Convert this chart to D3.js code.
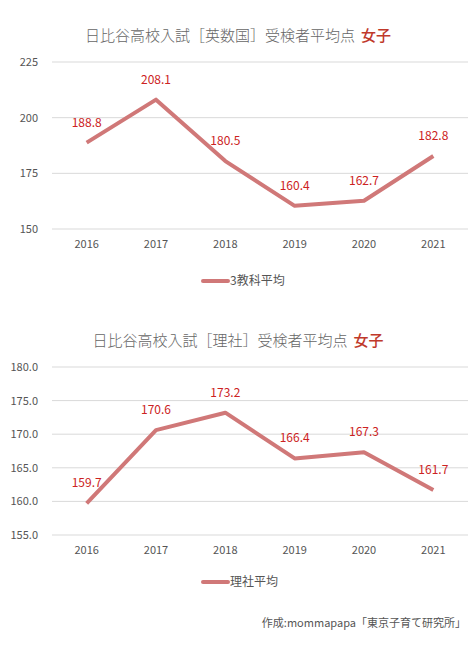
<!DOCTYPE html>
<html><head><meta charset="utf-8">
<script src="https://cdn.jsdelivr.net/npm/d3@7"></script>
<style>
body{margin:0;background:#fff;font-family:"Noto Sans CJK JP","Noto Sans",sans-serif;}
</style></head>
<body><svg id="c" width="476" height="645"></svg>
<script>
const years = ["2016","2017","2018","2019","2020","2021"];
const scoreMain = [188.8, 208.1, 180.5, 160.4, 162.7, 182.8];
const scoreSci = [159.7, 170.6, 173.2, 166.4, 167.3, 161.7];
const ticksMain = [150, 175, 200, 225];
const ticksSci = [155, 160, 165, 170, 175, 180];

const svg = d3.select("#c");
const lineColor = "#d07878";

function drawChart(cfg) {
  const x = d3.scaleBand().domain(years).range([52, 468]);
  const y = d3.scaleLinear().domain(cfg.domain).range([cfg.bottom, cfg.top]);
  const g = svg.append("g");

  const t = g.append("text").attr("x", 238).attr("y", cfg.titleY)
    .attr("text-anchor", "middle").attr("font-size", 15).attr("fill", "#666").attr("font-weight", 300);
  t.append("tspan").text(cfg.title);
  t.append("tspan").text("女子").attr("fill", "#c0392b").attr("font-weight", 500).attr("dx", 6);

  g.selectAll(".grid").data(cfg.ticks).join("line")
    .attr("x1", 52).attr("x2", 468)
    .attr("y1", d => y(d)).attr("y2", d => y(d))
    .attr("stroke", "#d9d9d9");

  g.selectAll(".yl").data(cfg.ticks).join("text")
    .attr("x", 38).attr("y", d => y(d) + 4)
    .attr("text-anchor", "end").attr("font-size", 11).attr("fill", "#555")
    .text(d => cfg.fmt(d));

  g.selectAll(".xl").data(years).join("text")
    .attr("x", d => x(d) + x.bandwidth() / 2).attr("y", cfg.bottom + 19)
    .attr("text-anchor", "middle").attr("font-size", 11).attr("fill", "#555")
    .text(d => d);

  const line = d3.line().x((d, i) => x(years[i]) + x.bandwidth() / 2).y(d => y(d));
  g.append("path").datum(cfg.values).attr("d", line)
    .attr("fill", "none").attr("stroke", lineColor).attr("stroke-width", 4)
    .attr("stroke-linejoin", "round");

  g.selectAll(".vl").data(cfg.values).join("text")
    .attr("x", (d, i) => x(years[i]) + x.bandwidth() / 2).attr("y", d => y(d) - 16)
    .attr("text-anchor", "middle").attr("font-size", 12).attr("fill", "#cc2222")
    .text(d => d.toFixed(1));

  g.append("line").attr("x1", 203).attr("x2", 228).attr("y1", cfg.legendY).attr("y2", cfg.legendY)
    .attr("stroke", lineColor).attr("stroke-width", 4).attr("stroke-linecap", "round");
  g.append("text").attr("x", 230).attr("y", cfg.legendY + 4).attr("font-size", 12).attr("fill", "#555")
    .text(cfg.legend);
}

drawChart({ title: "日比谷高校入試［英数国］受検者平均点", titleY: 41, domain: [150, 225],
  top: 62, bottom: 229, ticks: ticksMain, fmt: d => d, values: scoreMain, legend: "3教科平均", legendY: 281 });
drawChart({ title: "日比谷高校入試［理社］受検者平均点", titleY: 346, domain: [155, 180],
  top: 367, bottom: 535, ticks: ticksSci, fmt: d => d.toFixed(1), values: scoreSci, legend: "理社平均", legendY: 582 });

svg.append("text").attr("x", 466).attr("y", 627).attr("text-anchor", "end")
  .attr("font-size", 11).attr("fill", "#555").text("作成:mommapapa「東京子育て研究所」");
</script></body></html>
